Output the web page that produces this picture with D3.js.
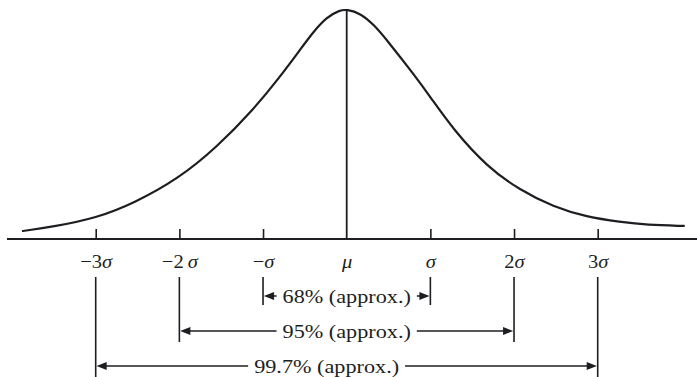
<!DOCTYPE html>
<html>
<head>
<meta charset="utf-8">
<script src="https://cdn.jsdelivr.net/npm/d3@7"></script>
<style>
  html, body { margin: 0; padding: 0; background: #fff; }
  svg { display: block; }
  text { font-family: "Liberation Serif", "Times New Roman", serif; fill: #1e1e22; }
</style>
</head>
<body>
<svg id="chart" width="697" height="377"></svg>
<script>
// Bell curve, sampled in units of sigma (x) and height relative to the peak (y)
const curveX = [-3.87, -3.50, -2.99, -2.55, -2.00, -1.55, -1.12, -0.80, -0.56, -0.40, -0.24, -0.08, 0.00,
                0.16, 0.33, 0.48, 0.80, 1.01, 1.27, 1.68, 2.07, 2.47, 2.87, 3.27, 3.59, 4.03];
const curveY = [0.035, 0.054, 0.092, 0.155, 0.266, 0.402, 0.563, 0.707, 0.825, 0.904, 0.969, 1.000, 1.002,
                0.987, 0.934, 0.869, 0.720, 0.615, 0.480, 0.314, 0.214, 0.140, 0.096, 0.074, 0.061, 0.057];

// Axis ticks (sigma multiples) and their labels
const tickValues = [-3, -2, -1, 0, 1, 2, 3];
const tickLabels = ["−3σ", "−2\u2009σ", "−σ", "μ", "σ", "2σ", "3σ"];

// Coverage brackets: half-width in sigma and the stated share
const rangeSigma = [1, 2, 3];
const rangeLabels = ["68% (approx.)", "95% (approx.)", "99.7% (approx.)"];
const rangeLabelShift = [0, 0, -0.24]; // label centre offset, in sigma

const svg = d3.select("#chart");
const ink = "#1e1e22";
const stretch = 1.17; // wide-set serif lettering

const x = d3.scaleLinear().domain([-3, 3]).range([95.7, 597.7]);
const y = d3.scaleLinear().domain([0, 1]).range([239, 10]);

// Density curve
const pts = curveX.map((v, i) => [v, curveY[i]]);
svg.append("path")
  .datum(pts)
  .attr("fill", "none")
  .attr("stroke", ink)
  .attr("stroke-width", 2.2)
  .attr("stroke-linecap", "round")
  .attr("d", d3.line().x(d => x(d[0])).y(d => y(d[1])).curve(d3.curveBasis));

// Mean line
svg.append("line")
  .attr("x1", x(0)).attr("x2", x(0))
  .attr("y1", y(1)).attr("y2", y(0))
  .attr("stroke", ink).attr("stroke-width", 1.8);

// Horizontal axis: full-width baseline with upward ticks
svg.append("line")
  .attr("x1", 7).attr("x2", 697)
  .attr("y1", y(0)).attr("y2", y(0))
  .attr("stroke", ink).attr("stroke-width", 2);

const axis = d3.axisBottom(x)
  .tickValues(tickValues)
  .tickSizeInner(-10)
  .tickSizeOuter(0)
  .tickFormat((d, i) => tickLabels[i]);

const gAxis = svg.append("g")
  .attr("transform", `translate(0,${y(0)})`)
  .call(axis);
gAxis.select(".domain").remove();
gAxis.selectAll(".tick line").attr("stroke", ink).attr("stroke-width", 1.6);
gAxis.selectAll(".tick").filter(d => d === 0).select("line").remove();
gAxis.selectAll(".tick text").each(function (d, i) {
  const t = d3.select(this);
  const label = tickLabels[i];
  t.text(null)
    .attr("x", 0)
    .attr("y", 29).attr("dy", null)
    .attr("font-size", 19)
    .attr("fill", ink)
    .attr("transform", "scale(1.08,1)")
    .attr("font-family", '"Liberation Serif", serif');
  for (const ch of label) {
    t.append("tspan")
      .attr("font-style", (ch === "σ" || ch === "μ") ? "italic" : "normal")
      .text(ch);
  }
});

// Coverage brackets below the axis
const rowY = [296, 331, 366];
const lineBottom = [305, 342, 380];
const lineTop = 277;
const head = 10, half = 4;

rangeSigma.forEach((k, i) => {
  const xl = x(-k), xr = x(k), ry = rowY[i];
  [xl, xr].forEach(xx => {
    svg.append("line")
      .attr("x1", xx).attr("x2", xx)
      .attr("y1", lineTop).attr("y2", lineBottom[i])
      .attr("stroke", ink).attr("stroke-width", 1.6);
  });

  const cx = x(rangeLabelShift[i]);
  const label = svg.append("text")
    .attr("x", 0).attr("y", ry + 7)
    .attr("text-anchor", "middle")
    .attr("font-size", 19)
    .attr("transform", `translate(${cx},0) scale(${stretch},1)`)
    .text(rangeLabels[i]);
  const w = label.node().getComputedTextLength() * stretch;
  const gap = 6;
  const tl = Math.max(cx - w / 2 - gap, xl + head + 1);
  const tr = Math.min(cx + w / 2 + gap, xr - head - 1);

  // shafts
  svg.append("line").attr("x1", xl + head).attr("x2", tl).attr("y1", ry).attr("y2", ry)
    .attr("stroke", ink).attr("stroke-width", 1.5);
  svg.append("line").attr("x1", tr).attr("x2", xr - head).attr("y1", ry).attr("y2", ry)
    .attr("stroke", ink).attr("stroke-width", 1.5);

  // arrowheads
  svg.append("path")
    .attr("d", `M${xl + 0.8},${ry} L${xl + head + 1},${ry - half} L${xl + head + 1},${ry + half} Z`)
    .attr("fill", ink);
  svg.append("path")
    .attr("d", `M${xr - 0.8},${ry} L${xr - head - 1},${ry - half} L${xr - head - 1},${ry + half} Z`)
    .attr("fill", ink);
});
</script>
</body>
</html>
